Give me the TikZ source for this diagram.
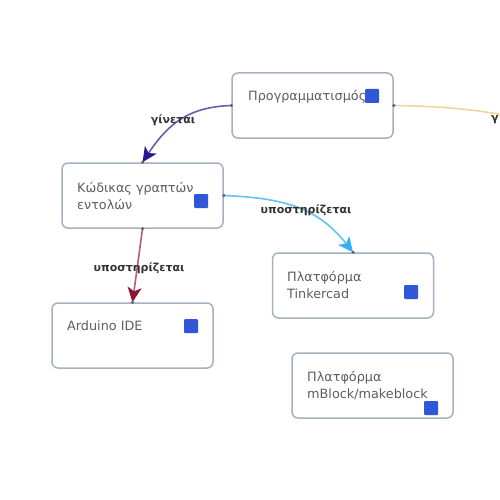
\documentclass[tikz,border=0pt]{standalone}
\usepackage{fontspec}
\setmainfont{DejaVu Sans}
\usetikzlibrary{arrows.meta}
\definecolor{boxline}{HTML}{A4B2BF}
\definecolor{sq}{HTML}{2F57D8}
\definecolor{txt}{HTML}{5E5E5E}
\definecolor{lbl}{HTML}{333333}
\definecolor{purp}{HTML}{6A5BB0}
\definecolor{purpd}{HTML}{2A168E}
\definecolor{orng}{HTML}{F2D59A}
\definecolor{lblue}{HTML}{62C4EC}
\definecolor{lblued}{HTML}{32B0F2}
\definecolor{maro}{HTML}{B25E7E}
\definecolor{marod}{HTML}{8C1838}
\tikzset{
  cbox/.style={draw=boxline, line width=1.5pt, rounded corners=6pt, fill=white,
    minimum width=161pt, minimum height=65pt, inner sep=0pt},
  sqbox/.style={fill=sq, rounded corners=1pt, minimum size=14pt, inner sep=0pt},
  btext/.style={anchor=north west, inner sep=0pt, align=left, text=txt,
    font=\fontsize{12.8}{17}\selectfont},
  elabel/.style={text=lbl, inner sep=1pt, font=\fontsize{11}{12}\selectfont\bfseries},
  conn/.style={line width=1.6pt},
  pdot/.style={circle, fill=gray!80!black, minimum size=3.5pt, inner sep=0pt}
}
\begin{document}
\begin{tikzpicture}[x=1pt,y=-1pt]
\useasboundingbox (0,0) rectangle (500,500);
\clip (0,0) rectangle (500,500);
\fill[white] (0,0) rectangle (500,500);

% boxes
\node[cbox] (b1) at (312.5,105.5) {};
\node[cbox] (b2) at (142.5,195.5) {};
\node[cbox] (b3) at (353,285.5) {};
\node[cbox] (b4) at (132.5,335.5) {};
\node[cbox] (b5) at (372.5,385.5) {};

% texts
\node[btext] (t1) at (248,90) {Προγραμματισμός};
\node[btext] (t2) at (77,182) {Κώδικας γραπτών\\εντολών};
\node[btext] (t3) at (287,271) {Πλατφόρμα\\Tinkercad};
\node[btext] (t4) at (67,321) {Arduino IDE};
\node[btext] (t5) at (307,371.5) {Πλατφόρμα\\mBlock/makeblock};

% squares
\node[sqbox] (s1) at (372,96) {};
\node[sqbox] (s2) at (201,201) {};
\node[sqbox] (s3) at (411,292) {};
\node[sqbox] (s4) at (191,326) {};
\node[sqbox] (s5) at (431,408) {};

\coordinate (off) at (508,116);

% connectors
\draw[conn, purp, -{Stealth[length=15pt, width=14pt, inset=4pt, color=purpd]}]
  (b1.west) .. controls (188,107) and (168,124) .. (b2.north);
\draw[conn, orng] (b1.east) .. controls (440,106) and (480,110) .. (off);
\draw[conn, lblue, -{Stealth[length=15pt, width=14pt, inset=4pt, color=lblued]}]
  (b2.east) .. controls (285,198) and (318,208) .. (b3.north);
\draw[conn, maro, -{Stealth[length=15pt, width=14pt, inset=4pt, color=marod]}]
  (b2.south) -- (b4.north);

% endpoint dots
\node[pdot] at (b1.west) {};
\node[pdot] at (b1.east) {};
\node[pdot] at (b2.north) {};
\node[pdot] at (b2.east) {};
\node[pdot] at (b2.south) {};
\node[pdot] at (b3.north) {};
\node[pdot] at (b4.north) {};

% labels
\node[elabel] (l1) at (173,120) {γίνεται};
\node[elabel, anchor=west] (l2) at (490,120) {γ};
\node[elabel] (l3) at (306,210) {υποστηρίζεται};
\node[elabel] (l4) at (139,268) {υποστηρίζεται};
\end{tikzpicture}
\end{document}
